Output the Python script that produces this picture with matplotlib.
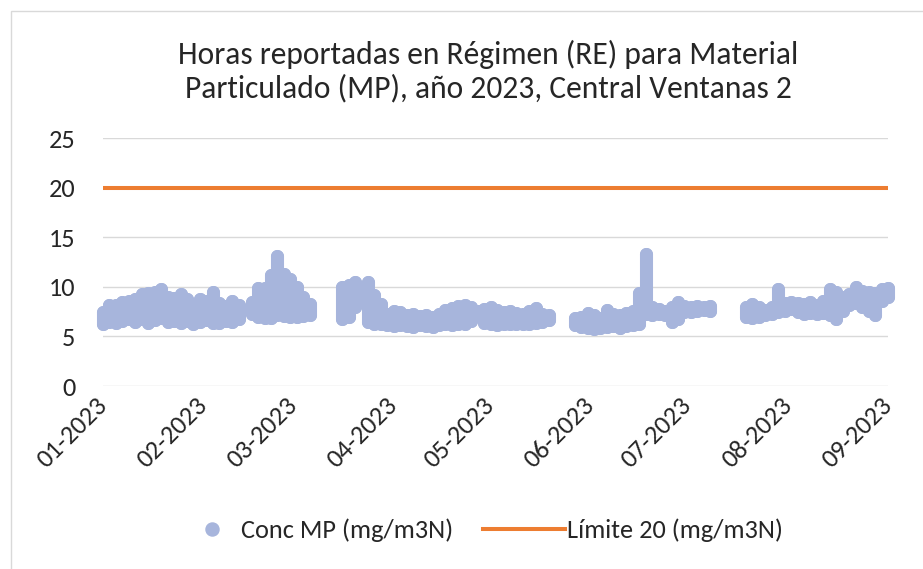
import numpy as np
import pandas as pd
import matplotlib
matplotlib.use('Agg')
import matplotlib.pyplot as plt
from matplotlib.patches import Rectangle
from matplotlib.lines import Line2D

plt.rcParams['font.family'] = ['Carlito', 'Lato', 'DejaVu Sans']

# dias desde 01-01-2023, concentracion minima y maxima
dias = [0, 2, 4, 6, 8, 10, 12, 14, 16, 18, 20, 22, 24, 26, 28, 30, 32, 34, 36, 38, 40, 42,
        46, 48, 50, 52, 54, 56, 58, 60, 62, 64,
        74, 76, 78,
        82, 84, 86, 88, 90, 92, 94, 96, 98, 100, 102, 104, 106, 108, 110, 112, 114, 116,
        118, 120, 122, 124, 126, 128, 130, 132, 134, 136, 138,
        146, 148, 150, 152, 154, 156, 158, 160, 162, 164, 166, 168, 170, 172, 174, 176,
        178, 180, 182, 184, 186, 188,
        199, 201, 203, 205, 207, 209, 211, 213, 215, 217, 219, 221, 223, 225, 227, 229,
        231, 233, 235, 237, 239, 241, 243]
conc_max = [7.5, 8.2, 8.2, 8.5, 8.6, 8.8, 9.3, 9.4, 9.5, 9.8, 9.0, 8.9, 9.3, 8.8, 8.2, 8.8, 8.6, 9.5, 8.4, 8.1, 8.6, 8.2,
            8.5, 9.9, 9.9, 11.2, 13.1, 11.3, 10.8, 10.0, 9.0, 8.3,
            10.0, 10.2, 10.5,
            10.5, 9.2, 8.3, 7.3, 7.6, 7.5, 7.2, 7.3, 7.1, 7.2, 7.0, 7.3, 7.7, 7.9, 8.1, 8.2, 8.0, 7.6,
            7.8, 8.0, 7.7, 7.5, 7.6, 7.4, 7.3, 7.6, 7.9, 7.3, 7.2,
            6.9, 7.0, 7.4, 7.2, 6.9, 7.7, 7.3, 7.2, 7.4, 7.6, 9.4, 13.3, 8.0, 7.8, 7.6, 8.0,
            8.5, 8.1, 8.0, 8.1, 8.0, 8.1,
            8.0, 8.3, 8.0, 7.7, 8.0, 9.8, 8.4, 8.5, 8.4, 8.3, 8.5, 8.2, 8.6, 9.8, 9.5, 9.0,
            9.3, 10.0, 9.6, 9.5, 9.4, 9.8, 9.9]
conc_min = [6.3, 6.5, 6.4, 6.6, 6.8, 6.5, 6.8, 6.4, 6.7, 6.9, 6.5, 6.6, 6.4, 6.6, 6.3, 6.5, 6.7, 6.4, 6.4, 6.6, 6.5, 6.8,
            7.3, 7.0, 6.9, 6.9, 7.2, 7.1, 7.0, 7.0, 7.1, 7.2,
            6.8, 7.0, 8.0,
            6.5, 6.2, 6.2, 6.1, 6.0, 6.1, 6.0, 5.9, 6.1, 6.0, 5.9, 6.1, 6.2, 6.1, 6.2, 6.3, 6.6, 7.2,
            6.4, 6.2, 6.1, 6.2, 6.3, 6.2, 6.3, 6.2, 6.4, 6.5, 6.7,
            6.1, 5.9, 5.8, 5.7, 5.8, 5.9, 6.0, 5.8, 6.0, 6.1, 6.2, 7.3, 7.2, 7.3, 7.2, 6.5,
            6.8, 7.5, 7.5, 7.6, 7.7, 7.6,
            7.0, 6.9, 7.0, 7.2, 7.3, 7.5, 7.6, 7.8, 7.5, 7.3, 7.4, 7.3, 7.4, 7.2, 6.8, 7.6,
            8.2, 8.4, 8.0, 7.6, 7.2, 8.6, 9.0]

limite_dias = [0, 243]
limite_valor = [20, 20]

meses = ['01-2023', '02-2023', '03-2023', '04-2023', '05-2023',
         '06-2023', '07-2023', '08-2023', '09-2023']

inicio = pd.Timestamp('2023-01-01')
fechas = inicio + pd.to_timedelta(dias, unit='D')
fechas_lim = inicio + pd.to_timedelta(limite_dias, unit='D')
ticks = pd.date_range('2023-01-01', periods=len(meses), freq='MS')

azul = '#A7B5DC'
naranja = '#ED7D31'
texto = '#262626'
diam = 9.4  # marker diameter in points

fig = plt.figure(figsize=(9.23, 5.69), dpi=100)
fig.patches.append(Rectangle((11/923, -0.01), 1.0, 1 - 11/569 + 0.01, transform=fig.transFigure,
                             fill=False, edgecolor='#D9D9D9', linewidth=1.0))
ax = fig.add_axes([103/923, 1 - 386/569, 785/923, 248/569])

ax.vlines(fechas, conc_min, conc_max, colors=azul, linewidth=diam, capstyle='round', zorder=3,
          clip_on=False)
ax.scatter(fechas, conc_min, s=diam**2, color=azul, linewidths=0, zorder=3, clip_on=False)
ax.scatter(fechas, conc_max, s=diam**2, color=azul, linewidths=0, zorder=3, clip_on=False)
ax.plot(fechas_lim, limite_valor, color=naranja, linewidth=2.9, solid_capstyle='butt', zorder=4)

ax.set_xlim(ticks[0], ticks[-1])
ax.set_ylim(0, 25)
ax.set_yticks([0, 5, 10, 15, 20, 25])
ax.set_xticks(ticks)
ax.set_xticklabels(meses, rotation=45, ha='right', va='center', rotation_mode='anchor')
ax.tick_params(axis='both', length=0, labelsize=19, colors=texto)
ax.tick_params(axis='y', pad=20)
ax.tick_params(axis='x', pad=11)
ax.grid(axis='y', color='#D9D9D9', linewidth=1.0)
ax.set_axisbelow(True)
for s in ax.spines.values():
    s.set_visible(False)

fig.text(488/923, 1 - 71/569, 'Horas reportadas en Régimen (RE) para Material\n'
         'Particulado (MP), año 2023, Central Ventanas 2',
         ha='center', va='center', fontsize=22.7, color=texto, linespacing=1.2)

# two legends so the marker and the line keep their own spacing
leg1 = fig.legend([Line2D([], [], linestyle='none', marker='o', markersize=diam, color=azul)],
                  ['Conc MP (mg/m3N)'], loc='center left', bbox_to_anchor=(199/923, 1 - 530/569),
                  frameon=False, fontsize=19, handlelength=1.0, handletextpad=0.6,
                  borderpad=0, borderaxespad=0, labelcolor=texto)
leg2 = fig.legend([Line2D([], [], color=naranja, linewidth=2.9)],
                  ['Límite 20 (mg/m3N)'], loc='center left', bbox_to_anchor=(483/923, 1 - 530/569),
                  frameon=False, fontsize=19, handlelength=3.1, handletextpad=0.1,
                  borderpad=0, borderaxespad=0, labelcolor=texto)

fig.savefig('out.png', dpi=100)
